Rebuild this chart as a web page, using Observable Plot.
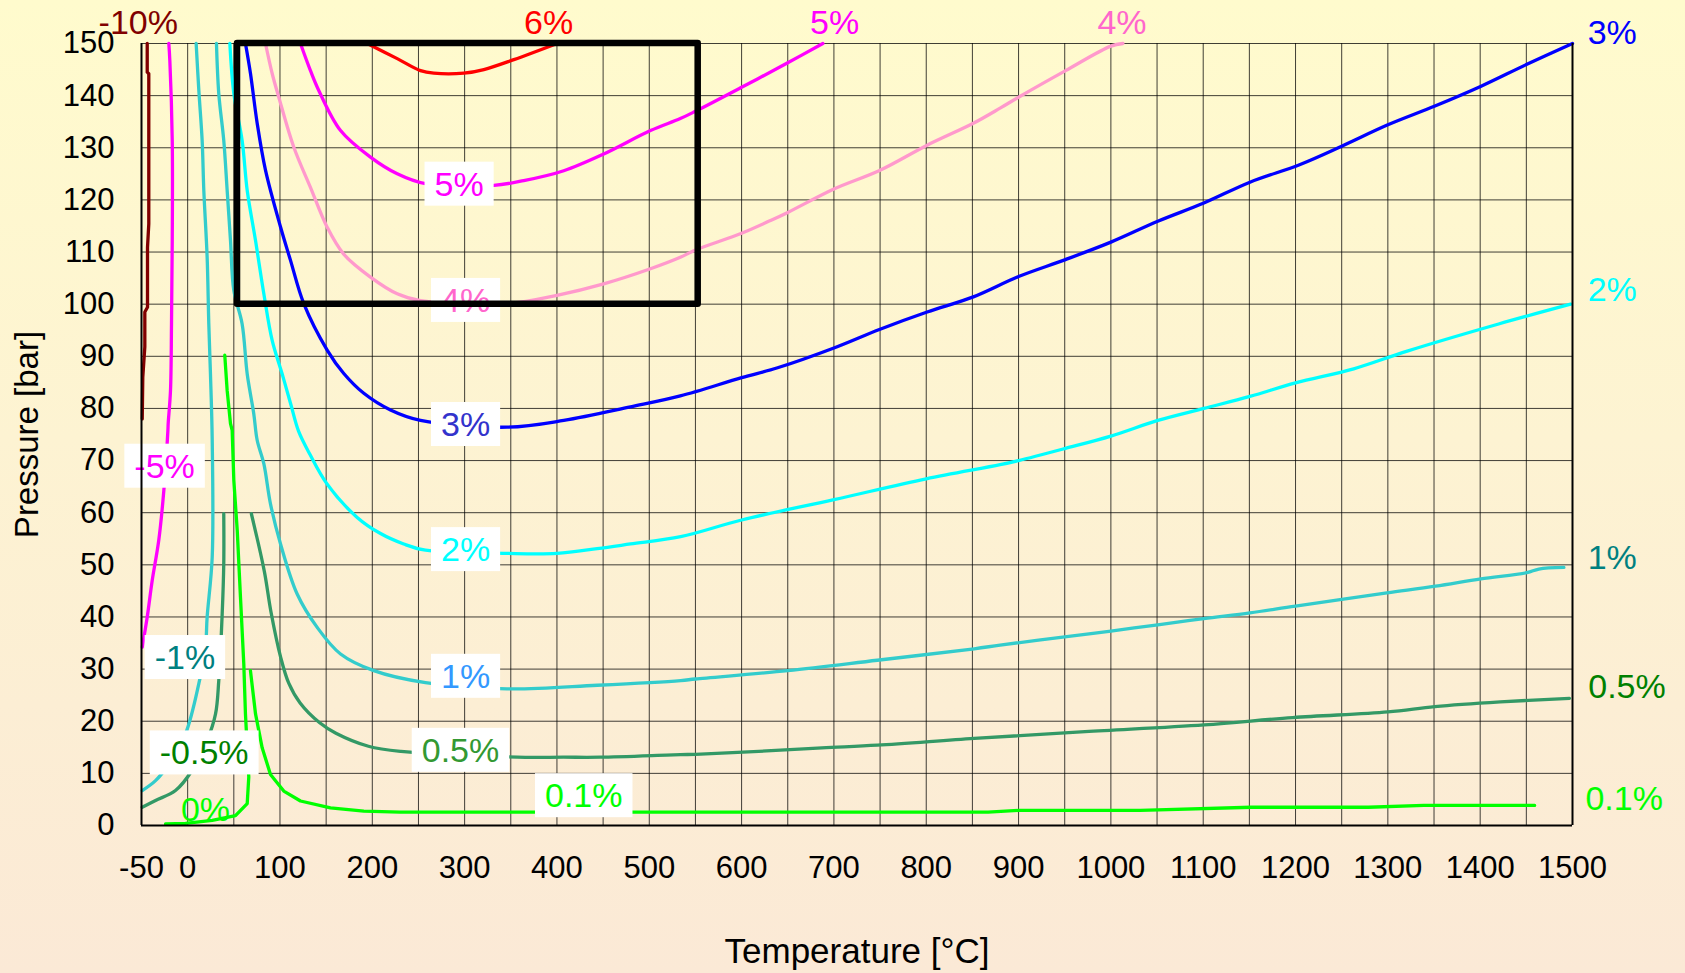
<!DOCTYPE html>
<html><head><meta charset="utf-8">
<script src="https://cdn.jsdelivr.net/npm/d3@7"></script>
<script src="https://cdn.jsdelivr.net/npm/@observablehq/plot@0.6"></script>
<style>
html,body{margin:0;padding:0;}
body{width:1685px;height:973px;overflow:hidden;background:linear-gradient(to bottom,#FFFBCD 0%,#FDF3D2 45%,#FBE9D6 100%);}
</style></head><body><div id="chart"></div>
<script>
// ---- axis ticks ----
const xTicks = [-50,0,100,200,300,400,500,600,700,800,900,1000,1100,1200,1300,1400,1500];
const yTicks = [0,10,20,30,40,50,60,70,80,90,100,110,120,130,140,150];
const xGrid = [-50,0,50,100,150,200,250,300,350,400,450,500,550,600,650,700,750,800,850,900,950,1000,1050,1100,1150,1200,1250,1300,1350,1400,1450,1500];
const yGrid = yTicks;

// ---- curves: [temperature °C, pressure bar] ----
const cM10 = [[-43.8,150],[-43.8,144.5],[-42.1,144.2],[-42.1,115.4],[-43.5,110.9],[-43.5,99.4],[-46.4,98.5],[-46.4,91.8],[-48.6,86],[-49.2,78]];
const cM5 = [[-20.4,150],[-19.3,146.7],[-16.7,131.4],[-16.7,112.2],[-17.5,96.2],[-18.6,83.4],[-21.1,77.1],[-21.4,75.8],[-25.8,64.3],[-31.3,54.7],[-38.4,47],[-43.8,40],[-49.2,34.2]];
const cM1 = [[9.2,150],[12.1,141],[15.7,131.4],[17.5,121.8],[21.1,109],[22.9,96.2],[24.7,86.6],[26.6,73.9],[26.6,51.5],[21.1,40],[19.3,34.2],[12.1,27.2],[-2.3,17.6],[-20.4,11.8],[-34.8,8.6],[-49.2,6.7]];
const cM05 = [[39.1,59.8],[39.1,50.2],[37.4,40.6],[33.7,27.8],[30.2,21.4],[21.1,16.3],[4.9,10.6],[-13.2,6.7],[-34.8,4.8],[-49.2,3.5]];
const c0 = [[40.2,90.2],[42.8,83.4],[46.4,77.1],[48.2,75.8],[50,66.2],[53.7,56.6],[57.2,43.8],[60.8,31],[62.6,21.4],[66.2,9.3],[64.5,4.2],[51.8,1.9],[26.6,1],[-2.3,0.4],[-24,0.3]];
const c01 = [[68,29.7],[73.5,21.4],[80.7,14.9],[89.7,9.8],[104.1,6.6],[122.2,4.7],[154.7,3.4],[190.8,2.75],[230,2.55],[500,2.55],[867,2.55],[900,2.9],[1032,2.9],[1152,3.5],[1279,3.5],[1339,3.85],[1459,3.85]];
const c05 = [[69,59.8],[83.1,48.7],[90.1,41.1],[100.7,32.3],[109.5,27.3],[121.8,23.5],[143,19.7],[160.6,17.7],[195.8,15.2],[231,14.2],[357,13.1],[407,13.1],[447,13.1],[533.8,13.6],[549.9,13.65],[627,14.3],[687,14.9],[747,15.4],[852,16.7],[972,18],[1101,19.3],[1197,20.7],[1300,21.8],[1351,22.8],[1421.7,23.7],[1496.7,24.4]];
const c1 = [[31.2,150],[33.7,140.4],[39.1,131.4],[42.8,121.8],[46.4,112.2],[50,102.6],[59,96.2],[64.5,86.6],[71.6,79],[75.3,73.9],[82.5,69.4],[89.7,61.7],[100.6,54],[118.6,44.4],[140.3,38],[165.6,32.9],[201.6,29.7],[257.6,27.4],[346,26.2],[443.6,26.9],[534,27.8],[549.9,28.1],[650,29.7],[747,31.7],[852,33.9],[880,34.6],[950,36.2],[1000,37.3],[1050.8,38.5],[1100.7,39.7],[1150.6,40.8],[1200,42.1],[1299,44.6],[1351.6,45.9],[1400.7,47.3],[1450.6,48.5],[1463.6,49.2],[1490.7,49.5]];
const c2 = [[45.7,150],[50,140.4],[59,131.4],[64.5,121.8],[73.5,112.2],[82.5,102],[91.6,93],[102.4,86.6],[112,80.6],[120,75.7],[132.4,71.2],[151,65.5],[183.6,59.1],[208.9,56],[234,54],[257.6,52.8],[346,52.2],[400,52.2],[443.6,53.1],[479.7,54],[534,55.4],[600,58.6],[700,62.5],[800,66.5],[880,69.2],[900,70],[950,72.3],[1000,74.7],[1050.8,77.7],[1100.7,80],[1150.6,82.3],[1200,84.9],[1263,87.6],[1321,91],[1420,96.2],[1498,100]];
const c3 = [[62.6,150],[68,144.3],[75.3,134.7],[84.3,125.7],[100.6,114.8],[111.4,108.4],[125.8,100.1],[151.1,91.2],[169.1,86.7],[190.8,82.9],[219.7,79.7],[252.2,77.7],[346,76.4],[407.4,77.7],[479.7,80.3],[533.6,82.4],[600,85.9],[639,87.8],[700,91.6],[750,95.2],[801,98.5],[851,101.4],[900,105.3],[950,108.5],[1000,111.9],[1050.8,115.9],[1100.7,119.4],[1150.6,123.4],[1205,126.8],[1250,130.3],[1300,134.4],[1351,138],[1401,141.8],[1450.6,146],[1500,150]];
const c4 = [[84.3,150],[91.6,144.2],[98.7,139.7],[115,130.1],[133,122.4],[151,114.8],[169,109.6],[198,105.2],[227,102],[252.2,100.7],[346,100.1],[400,101.7],[450.6,103.9],[501.3,106.8],[533.6,109],[550,110.4],[600,113.6],[632,116.1],[650,117.6],[700,122.1],[750,125.7],[801,130.5],[851,134.7],[880,137.6],[900,139.7],[951,144.8],[1000,149.5],[1013,150]];
const c5 = [[122.2,150],[133,144.8],[142,141],[165.6,133.3],[198,128.2],[227,125],[257.6,123.1],[331.7,122.8],[364,123.7],[407.4,125.6],[450.6,128.8],[501.3,133.3],[533.6,135.6],[550,137],[600,141.6],[650,146.3],[688,150]];
const c6 = [[194.5,150],[227,147.1],[252.2,144.8],[266.6,144.3],[299.1,144.3],[320.8,145],[353.3,146.9],[400.2,150]];

const curveData = [cM10, cM5, cM1, cM05, c0, c01, c05, c1, c2, c3, c4, c5, c6];
const curveColor = ["#800000","#FF00FF","#33CCCC","#339966","#00FF00","#00FF00","#339966","#33CCCC","#00FFFF","#0000FF","#FF99CC","#FF00FF","#FF0000"];
const curveSmooth = [false,true,true,true,false,false,true,true,true,true,true,true,true];

// ---- labels on curves (white boxes) ----
const boxText = ["5%","4%","3%","2%","1%","0.5%","0.1%","-5%","-1%","-0.5%"];
const boxT = [294,301,301,301,301,295.5,429,-25,-3,17.9];
const boxP = [122.9,100.6,76.8,52.8,28.5,14.3,5.6,68.8,32.1,13.8];
const boxColor = ["#FF00FF","#FF66CC","#3333CC","#00FFFF","#3399FF","#339933","#00FF00","#FF00FF","#008080","#008000"];

// ---- free labels ----
const freeText = ["0%","-10%","6%","5%","4%","3%","2%","1%","0.5%","0.1%"];
const freeT = [19.3,-53.5,390.9,700.7,1012,1543,1543,1543,1559,1556];
const freeP = [2.9,153.9,153.9,153.9,153.9,151.9,102.7,51.2,26.5,5.1];
const freeColor = ["#00FF00","#800000","#FF0000","#FF00FF","#FF66CC","#0000FF","#00FFFF","#008080","#008000","#00FF00"];

// ---- highlighted region ----
const zoomBox = [{x1: 54, x2: 553, y1: 100, y2: 150}];

const idx = (a) => a.map((_, i) => i);

const plot = Plot.plot({
  width: 1685, height: 973,
  marginLeft: 141, marginRight: 113, marginTop: 43, marginBottom: 148,
  x: {domain: [-50, 1500]},
  y: {domain: [0, 150]},
  color: {type: "identity"},
  style: {background: "transparent", fontFamily: "'Liberation Sans', Arial, sans-serif"},
  marks: [
    Plot.ruleX(xGrid, {stroke: "#000", strokeOpacity: 0.75, strokeWidth: 1}),
    Plot.ruleY(yGrid, {stroke: "#000", strokeOpacity: 0.75, strokeWidth: 1}),
    ...curveData.map((pts, i) => Plot.line(pts, {
      x: d => d[0], y: d => d[1], stroke: curveColor[i], strokeWidth: 3.3,
      curve: curveSmooth[i] ? "catmull-rom" : "linear"
    })),
    Plot.text(idx(boxText), {
      x: i => boxT[i], y: i => boxP[i], text: i => boxText[i], fill: i => boxColor[i],
      fontSize: 34, className: "boxlabel"
    }),
    Plot.text(idx(freeText), {
      x: i => freeT[i], y: i => freeP[i], text: i => freeText[i], fill: i => freeColor[i],
      fontSize: 34
    }),
    Plot.rect(zoomBox, {x1: "x1", x2: "x2", y1: "y1", y2: "y2", fill: "none", stroke: "#000", strokeWidth: 6.5, strokeLinejoin: "round"}),
    Plot.ruleX([-50, 1500], {stroke: "#000", strokeWidth: 2}),
    Plot.ruleY([0], {stroke: "#000", strokeWidth: 2}),
    Plot.axisX(xTicks, {tickSize: 0, tickPadding: 30, fontSize: 31, tickFormat: d => String(d), label: null}),
    Plot.axisY(yTicks, {tickSize: 0, tickPadding: 27, fontSize: 31, tickFormat: d => String(d), label: null}),
    Plot.text(["Temperature [°C]"], {frameAnchor: "bottom", lineAnchor: "middle", textAnchor: "middle", dy: 126, fontSize: 35, fill: "#000"}),
    Plot.text(["Pressure [bar]"], {frameAnchor: "left", lineAnchor: "middle", textAnchor: "middle", dx: -114, rotate: -90, fontSize: 33, fill: "#000"})
  ]
});
document.getElementById("chart").append(plot);

// white background boxes behind curve labels
plot.querySelectorAll("g.boxlabel text").forEach(t => {
  const b = t.getBBox();
  const r = document.createElementNS("http://www.w3.org/2000/svg", "rect");
  r.setAttribute("x", b.x - 10);
  r.setAttribute("y", b.y - 3);
  r.setAttribute("width", b.width + 20);
  r.setAttribute("height", b.height + 6);
  r.setAttribute("fill", "white");
  r.setAttribute("stroke", "none");
  const tr = t.getAttribute("transform");
  if (tr) r.setAttribute("transform", tr);
  t.parentNode.insertBefore(r, t);
});
</script></body></html>
